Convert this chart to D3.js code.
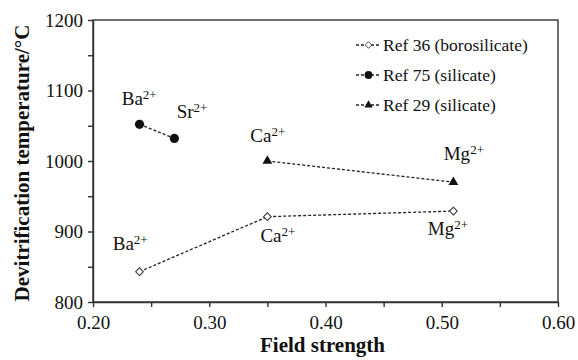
<!DOCTYPE html>
<html>
<head>
<meta charset="utf-8">
<script src="https://cdn.jsdelivr.net/npm/d3@7"></script>
<style>
	body { margin: 0; background: #fff; }
	svg text { font-family: "Liberation Serif", "Times New Roman", serif; }
	.axis path, .axis line { stroke: #333; stroke-width: 1.4; }
</style>
</head>
<body>
<div id="chart"></div>
<script>
// Data
const seriesNames = ["Ref 36 (borosilicate)", "Ref 75 (silicate)", "Ref 29 (silicate)"];
const ref36 = [[0.24, 843], [0.35, 921], [0.51, 929]];
const ref75 = [[0.24, 1052], [0.27, 1032]];
const ref29 = [[0.35, 1000], [0.51, 970]];

// ion labels: [x, y, element]
const ionLabels = [
	[0.2247, 1079, "Ba"], [0.272, 1061, "Sr"],
	[0.3353, 1027, "Ca"], [0.5017, 1002, "Mg"],
	[0.217, 874, "Ba"], [0.344, 885, "Ca"], [0.488, 895, "Mg"]
];

const xTicks = [0.20, 0.30, 0.40, 0.50, 0.60];
const yTicks = [800, 900, 1000, 1100, 1200];

const FONT = "Liberation Serif, Times New Roman, serif";

const W = 578, H = 360;
const margin = { top: 20, right: 20, bottom: 58, left: 93 };
const width = W - margin.left - margin.right;
const height = H - margin.top - margin.bottom;

const svg = d3.select("#chart").append("svg")
	.attr("width", W).attr("height", H)
	.attr("font-family", FONT);
const g = svg.append("g")
	.attr("transform", `translate(${margin.left},${margin.top})`);

const x = d3.scaleLinear().domain([0.2, 0.6]).range([0, width]);
const y = d3.scaleLinear().domain([800, 1200]).range([height, 0]);

// frame
g.append("rect")
	.attr("width", width).attr("height", height)
	.attr("fill", "none").attr("stroke", "#333").attr("stroke-width", 1.4);

// x axis: ticks every 0.05, labels every 0.1
g.append("g").attr("class", "axis")
	.attr("transform", `translate(0,${height})`)
	.call(d3.axisBottom(x).tickValues(d3.range(0.2, 0.6001, 0.05)).tickSize(5).tickSizeOuter(0)
		.tickFormat(d => xTicks.some(t => Math.abs(t - d) < 1e-6) ? d3.format(".2f")(d) : ""))
	.call(a => a.attr("font-family", FONT).attr("font-size", 19))
	.call(a => a.selectAll("text").attr("fill", "#111").attr("dy", "1.0em"));

g.append("g").attr("class", "axis")
	.call(d3.axisLeft(y).tickValues(d3.range(800, 1201, 50)).tickSize(5).tickSizeOuter(0)
		.tickFormat(d => yTicks.includes(d) ? d : ""))
	.call(a => a.attr("font-family", FONT).attr("font-size", 19))
	.call(a => a.selectAll("text").attr("fill", "#111").attr("dx", "-0.1em").attr("dy", "0.34em"));

// axis titles
svg.append("text")
	.attr("x", margin.left + width / 2 - 3).attr("y", 352)
	.attr("text-anchor", "middle").attr("fill", "#111")
	.style("font-size", "21px").style("font-weight", "bold")
	.text("Field strength");

svg.append("text")
	.attr("transform", `translate(29,${margin.top + height / 2 + 2}) rotate(-90)`)
	.attr("text-anchor", "middle").attr("fill", "#111")
	.style("font-size", "21px").style("font-weight", "bold")
	.text("Devitrification temperature/°C");

const line = d3.line().x(d => x(d[0])).y(d => y(d[1]));

const square = d3.symbol().type(d3.symbolSquare).size(30);
const triangle = d3.symbol().type(d3.symbolTriangle).size(42);

const series = [
	{ data: ref36, shape: "diamond" },
	{ data: ref75, shape: "circle" },
	{ data: ref29, shape: "triangle" }
];

function drawMarker(sel, shape) {
	if (shape === "circle") {
		sel.append("circle").attr("r", 4.6).attr("fill", "#111");
	} else if (shape === "diamond") {
		sel.append("path").attr("d", square()).attr("transform", "rotate(45)")
			.attr("fill", "#fff").attr("stroke", "#333").attr("stroke-width", 1);
	} else {
		sel.append("path").attr("d", triangle()).attr("fill", "#111");
	}
}

series.forEach(s => {
	g.append("path").datum(s.data)
		.attr("d", line)
		.attr("fill", "none").attr("stroke", "#222")
		.attr("stroke-width", 1.3).attr("stroke-dasharray", "3,2");

	g.selectAll(null).data(s.data).enter().append("g")
		.attr("transform", d => `translate(${x(d[0])},${y(d[1])})`)
		.each(function () { drawMarker(d3.select(this), s.shape); });
});

// ion labels
ionLabels.forEach(l => {
	const t = g.append("text")
		.attr("x", x(l[0])).attr("y", y(l[1])).attr("fill", "#111")
		.style("font-size", "19px");
	t.append("tspan").text(l[2]);
	t.append("tspan").attr("dy", "-0.45em").style("font-size", "13px").text("2+");
});

// legend
const legend = g.append("g").attr("transform", "translate(263,25)");
series.forEach((s, i) => {
	const row = legend.append("g").attr("transform", `translate(0,${i * 30})`);
	row.append("line").attr("x1", 0).attr("x2", 25)
		.attr("stroke", "#222").attr("stroke-width", 1.3).attr("stroke-dasharray", "3,2");
	const m = row.append("g").attr("transform", "translate(12.5,0) scale(0.85)");
	drawMarker(m, s.shape);
	row.append("text").attr("x", 27).attr("y", 0).attr("dy", "0.33em").attr("fill", "#111")
		.style("font-size", "17.5px").text(seriesNames[i]);
});
</script>
</body>
</html>
